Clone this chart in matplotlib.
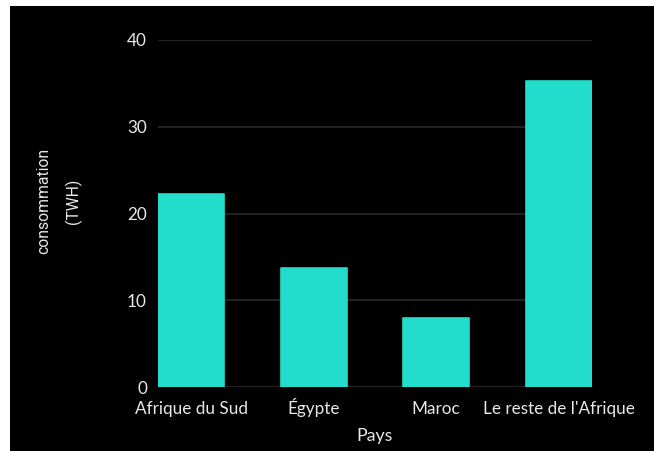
import matplotlib
matplotlib.use("Agg")
import matplotlib.pyplot as plt
from matplotlib.patches import Rectangle

categories = ["Afrique du Sud", "Égypte", "Maroc", "Le reste de l'Afrique"]
values = [22.2, 13.7, 7.95, 35.3]
yticks = [0, 10, 20, 30, 40]

W, H = 654, 451
fig = plt.figure(figsize=(W/100, H/100), dpi=100, facecolor="white")
fig.patches.append(Rectangle((10/W, 0), 1 - 10/W, (H-6)/H, transform=fig.transFigure,
                             facecolor="black", edgecolor="none", zorder=-10))

ax = fig.add_axes([158/W, (H-387)/H, (592-158)/W, (387-40)/H])
ax.set_zorder(5)
ax.set_facecolor("black")
ax.bar(range(len(categories)), values, width=0.54, color="#22DDCC", zorder=3,
       edgecolor="#22DDCC", linewidth=1.2, joinstyle="round")
ax.set_xlim(-0.273, 3.273)
ax.set_ylim(0, 40)
ax.set_yticks(yticks)
ax.set_yticklabels([str(t) for t in yticks])
ax.set_xticks(range(len(categories)))
ax.set_xticklabels(categories)
ax.grid(axis="y", color="#222222", linewidth=1.5, zorder=0)
ax.set_axisbelow(True)
for s in ax.spines.values():
    s.set_visible(False)
ax.tick_params(axis="both", length=0, colors="#e8e8e8", labelsize=12.3)
ax.tick_params(axis="y", pad=8)
ax.tick_params(axis="x", pad=19.5)
for lab in ax.get_xticklabels():
    lab.set_fontfamily("Lato")
    lab.set_va("baseline")
for lab in ax.get_yticklabels():
    lab.set_fontfamily("Lato")
ax.set_xlabel("Pays", fontfamily="Lato", fontsize=12.8, color="#e8e8e8", labelpad=8)
t = fig.text(59/W, (H-201)/H, "consommation\n(TWH)", rotation=90, ha="center", va="center",
             fontfamily="Roboto", fontsize=11.3, color="#e8e8e8", linespacing=1.95)
t.set_zorder(6)

fig.savefig("out.png", dpi=100, facecolor="white")
